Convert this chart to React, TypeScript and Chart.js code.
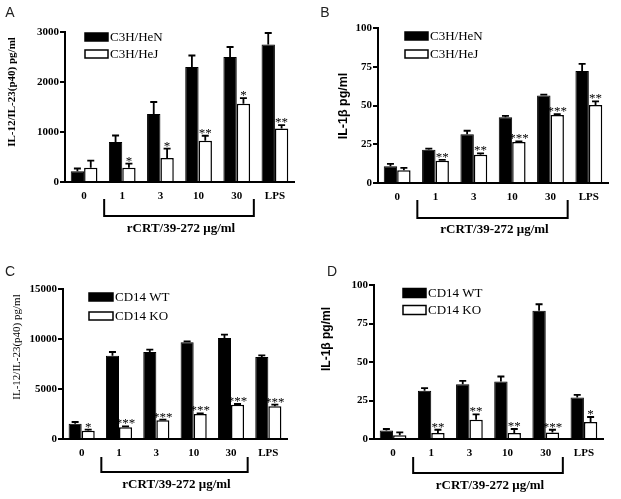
import React, { useEffect, useRef } from 'react';
import { Chart, registerables } from 'chart.js';

Chart.register(...registerables);

// ---------- data ----------
const CATEGORIES = ['0', '1', '3', '10', '30', 'LPS'];
const BRACKET_LABEL = 'rCRT/39-272 μg/ml';

// Panel A: IL-12/IL-23(p40) pg/ml, C3H/HeN vs C3H/HeJ
const A_SERIES = ['C3H/HeN', 'C3H/HeJ'];
const A_HEN = [215, 800, 1360, 2300, 2500, 2750];
const A_HEN_ERR = [55, 130, 240, 230, 200, 230];
const A_HEJ = [283, 283, 482, 825, 1565, 1070];
const A_HEJ_ERR = [145, 85, 185, 100, 112, 66];
const A_STARS = ['', '*', '*', '**', '*', '**'];
const A_TICKS = { max: 3000, step: 1000 };

// Panel B: IL-1β pg/ml, C3H/HeN vs C3H/HeJ
const B_SERIES = ['C3H/HeN', 'C3H/HeJ'];
const B_HEN = [10.8, 21.5, 31.5, 42.5, 56.5, 72.3];
const B_HEN_ERR = [1.5, 0.7, 2.2, 0.8, 0.5, 4.5];
const B_HEJ = [8.2, 14.3, 18.3, 26.5, 43.9, 50.3];
const B_HEJ_ERR = [1.5, 0.6, 0.8, 0.4, 0.6, 2.4];
const B_STARS = ['', '**', '**', '***', '***', '**'];
const B_TICKS = { max: 100, step: 25 };

// Panel C: IL-12/IL-23(p40) pg/ml, CD14 WT vs CD14 KO
const C_SERIES = ['CD14 WT', 'CD14 KO'];
const C_WT = [1530, 8330, 8700, 9670, 10100, 8200];
const C_WT_ERR = [170, 370, 230, 100, 330, 170];
const C_KO = [830, 1170, 1870, 2500, 3430, 3270];
const C_KO_ERR = [100, 100, 70, 70, 70, 170];
const C_STARS = ['*', '***', '***', '***', '***', '***'];
const C_TICKS = { max: 15000, step: 5000 };

// Panel D: IL-1β pg/ml, CD14 WT vs CD14 KO
const D_SERIES = ['CD14 WT', 'CD14 KO'];
const D_WT = [5.6, 31.3, 35.6, 37.4, 83.2, 27];
const D_WT_ERR = [0.9, 1.7, 2.2, 3.2, 4.3, 1.7];
const D_KO = [2.4, 3.9, 12.5, 3.9, 4.3, 11];
const D_KO_ERR = [1.9, 2.1, 3.5, 2.6, 1.7, 3.3];
const D_STARS = ['', '**', '**', '**', '***', '*'];
const D_TICKS = { max: 100, step: 25 };

const SERIF = "'Liberation Serif', 'Times New Roman', serif";
const SANS = "'Liberation Sans', Arial, sans-serif";

type PanelProps = {
  letter: string;
  letterPos: [number, number];
  left: number;
  top: number;
  w: number;
  h: number;
  axisX: number;
  topY: number;
  rightX: number;
  zeroY: number;
  series: string[];
  black: number[];
  blackErr: number[];
  white: number[];
  whiteErr: number[];
  stars: string[];
  ticks: { max: number; step: number };
  yTitle: string;
  yTitleFont: string;
  yTitlePos: [number, number];
  legendX: [number, number];
  legendRows: [number, number];
  legendH: number;
  bracket: [number, number, number];
};

function Panel(p: PanelProps) {
  const ref = useRef<HTMLCanvasElement>(null);

  useEffect(() => {
    if (!ref.current) return;

    const overlay = {
      id: 'overlay' + p.letter,
      afterDatasetsDraw(chart: any) {
        const ctx = chart.ctx;
        const ys = chart.scales.y;
        [0, 1].forEach((di) => {
          const meta = chart.getDatasetMeta(di);
          const vals = di === 0 ? p.black : p.white;
          const errs = di === 0 ? p.blackErr : p.whiteErr;
          meta.data.forEach((el: any, i: number) => {
            const capY = ys.getPixelForValue(vals[i] + errs[i]);
            ctx.save();
            ctx.strokeStyle = '#000';
            ctx.lineWidth = 1.8;
            ctx.beginPath();
            ctx.moveTo(el.x, el.y);
            ctx.lineTo(el.x, capY);
            ctx.moveTo(el.x - 3.5, capY);
            ctx.lineTo(el.x + 3.5, capY);
            ctx.stroke();
            if (di === 1 && p.stars[i]) {
              ctx.fillStyle = '#000';
              ctx.font = `13px ${SERIF}`;
              ctx.textAlign = 'center';
              ctx.textBaseline = 'alphabetic';
              ctx.fillText(p.stars[i], el.x, capY + 1);
            }
            ctx.restore();
          });
        });
      },
      afterDraw(chart: any) {
        const ctx = chart.ctx;
        const xs = chart.scales.x;
        ctx.save();
        // panel letter
        ctx.fillStyle = '#222';
        ctx.font = `14px ${SANS}`;
        ctx.textAlign = 'center';
        ctx.textBaseline = 'middle';
        ctx.fillText(p.letter, p.letterPos[0], p.letterPos[1]);

        // y title
        ctx.save();
        ctx.translate(p.yTitlePos[0], p.yTitlePos[1]);
        ctx.rotate(-Math.PI / 2);
        ctx.fillStyle = '#000';
        ctx.font = p.yTitleFont;
        ctx.textAlign = 'center';
        ctx.textBaseline = 'middle';
        ctx.fillText(p.yTitle, 0, 0);
        ctx.restore();

        // legend
        ctx.lineWidth = 1.5;
        ctx.strokeStyle = '#000';
        ctx.font = `13px ${SERIF}`;
        ctx.textAlign = 'left';
        ctx.textBaseline = 'middle';
        p.series.forEach((name, i) => {
          const cy = p.legendRows[i];
          const x0 = p.legendX[0];
          const bw = p.legendX[1] - p.legendX[0];
          ctx.fillStyle = i === 0 ? '#000' : '#fff';
          ctx.fillRect(x0, cy - p.legendH / 2, bw, p.legendH);
          ctx.strokeRect(x0, cy - p.legendH / 2, bw, p.legendH);
          ctx.fillStyle = '#000';
          ctx.fillText(name, p.legendX[1] + 2, cy + 1);
        });

        // bracket
        const band = xs.getPixelForValue(1) - xs.getPixelForValue(0);
        const bx0 = xs.getPixelForValue(1) - band / 2 + 1;
        const bx1 = xs.getPixelForValue(4) + band / 2 - 2;
        const [vTop, hY, labY] = p.bracket.map((d) => p.zeroY + d);
        ctx.lineWidth = 2;
        ctx.beginPath();
        ctx.moveTo(bx0, vTop);
        ctx.lineTo(bx0, hY);
        ctx.lineTo(bx1, hY);
        ctx.lineTo(bx1, vTop);
        ctx.stroke();
        ctx.fillStyle = '#000';
        ctx.font = `bold 13px ${SERIF}`;
        ctx.textAlign = 'center';
        ctx.textBaseline = 'middle';
        ctx.fillText(BRACKET_LABEL, (bx0 + bx1) / 2 + 2, labY);
        ctx.restore();
      },
    };

    const chart = new Chart(ref.current, {
      type: 'bar',
      data: {
        labels: CATEGORIES,
        datasets: [
          {
            label: p.series[0],
            data: p.black,
            backgroundColor: '#000',
            borderColor: '#000',
            borderWidth: 1,
            categoryPercentage: 0.7,
            barPercentage: 1,
          },
          {
            label: p.series[1],
            data: p.white,
            backgroundColor: '#fff',
            borderColor: '#000',
            borderWidth: 1.5,
            categoryPercentage: 0.7,
            barPercentage: 1,
          },
        ],
      },
      options: {
        responsive: false,
        animation: false,
        devicePixelRatio: 1,
        layout: {
          padding: { left: 0, top: p.topY, right: p.w - p.rightX, bottom: 0 },
        },
        plugins: {
          legend: { display: false },
          tooltip: { enabled: false },
        },
        scales: {
          x: {
            grid: { display: false },
            border: { display: true, color: '#000', width: 2 },
            ticks: {
              color: '#000',
              font: { family: SERIF, size: 11, weight: 'bold' },
              padding: 0,
              maxRotation: 0,
              autoSkip: false,
            },
            afterFit: (scale: any) => {
              scale.height = p.h - p.zeroY;
            },
          },
          y: {
            min: 0,
            max: p.ticks.max,
            grid: {
              display: true,
              drawOnChartArea: false,
              drawTicks: true,
              tickLength: 5,
              color: '#000',
              lineWidth: 2,
            },
            border: { display: true, color: '#000', width: 2 },
            ticks: {
              stepSize: p.ticks.step,
              color: '#000',
              font: { family: SERIF, size: 11, weight: 'bold' },
              padding: 1,
              callback: (v: any) => String(v),
            },
            afterFit: (scale: any) => {
              scale.width = p.axisX;
            },
          },
        },
      },
      plugins: [overlay],
    } as any);

    return () => chart.destroy();
  }, []);

  return (
    <canvas
      ref={ref}
      width={p.w}
      height={p.h}
      style={{ position: 'absolute', left: p.left, top: p.top, width: p.w, height: p.h }}
    />
  );
}

export default function App() {
  return (
    <div
      style={{
        position: 'fixed',
        left: 0,
        top: 0,
        width: 621,
        height: 499,
        background: '#fff',
        overflow: 'hidden',
      }}
    >
      <Panel
        letter="A"
        letterPos={[10, 13]}
        left={0}
        top={0}
        w={310}
        h={250}
        axisX={65}
        topY={32}
        rightX={294}
        zeroY={182}
        series={A_SERIES}
        black={A_HEN}
        blackErr={A_HEN_ERR}
        white={A_HEJ}
        whiteErr={A_HEJ_ERR}
        stars={A_STARS}
        ticks={A_TICKS}
        yTitle="IL-12/IL-23(p40) pg/ml"
        yTitleFont={`bold 11px ${SERIF}`}
        yTitlePos={[12, 92]}
        legendX={[85, 108]}
        legendRows={[37, 54]}
        legendH={8}
        bracket={[17, 34, 47]}
      />
      <Panel
        letter="B"
        letterPos={[15, 13]}
        left={310}
        top={0}
        w={311}
        h={250}
        axisX={68}
        topY={28}
        rightX={298}
        zeroY={183}
        series={B_SERIES}
        black={B_HEN}
        blackErr={B_HEN_ERR}
        white={B_HEJ}
        whiteErr={B_HEJ_ERR}
        stars={B_STARS}
        ticks={B_TICKS}
        yTitle="IL-1β pg/ml"
        yTitleFont={`bold 12.5px ${SANS}`}
        yTitlePos={[34, 106]}
        legendX={[95, 118]}
        legendRows={[36, 54]}
        legendH={8}
        bracket={[17, 35, 47]}
      />
      <Panel
        letter="C"
        letterPos={[10, 22]}
        left={0}
        top={250}
        w={310}
        h={249}
        axisX={63}
        topY={39}
        rightX={287}
        zeroY={189}
        series={C_SERIES}
        black={C_WT}
        blackErr={C_WT_ERR}
        white={C_KO}
        whiteErr={C_KO_ERR}
        stars={C_STARS}
        ticks={C_TICKS}
        yTitle="IL-12/IL-23(p40) pg/ml"
        yTitleFont={`11px ${SERIF}`}
        yTitlePos={[17, 97]}
        legendX={[89, 113]}
        legendRows={[47, 66]}
        legendH={8}
        bracket={[18, 33, 46]}
      />
      <Panel
        letter="D"
        letterPos={[22, 22]}
        left={310}
        top={250}
        w={311}
        h={249}
        axisX={64}
        topY={35}
        rightX={293}
        zeroY={189}
        series={D_SERIES}
        black={D_WT}
        blackErr={D_WT_ERR}
        white={D_KO}
        whiteErr={D_KO_ERR}
        stars={D_STARS}
        ticks={D_TICKS}
        yTitle="IL-1β pg/ml"
        yTitleFont={`bold 12px ${SANS}`}
        yTitlePos={[17, 89]}
        legendX={[93, 116]}
        legendRows={[43, 60]}
        legendH={9}
        bracket={[18, 34, 47]}
      />
    </div>
  );
}
